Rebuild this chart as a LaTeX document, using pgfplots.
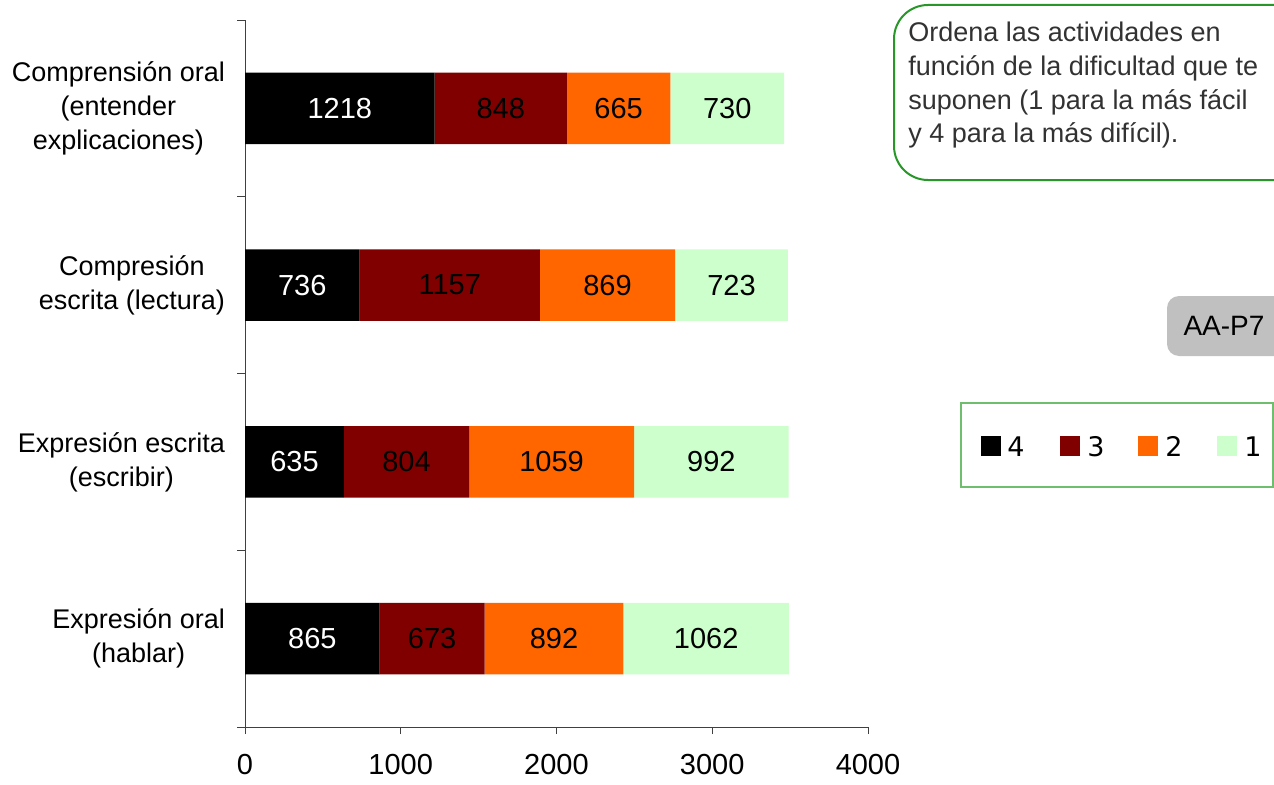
\documentclass[border=0pt]{standalone}
\usepackage{fontspec}
\setmainfont{Liberation Sans}
\newfontfamily\legendfont{DejaVu Sans}
\usepackage{pgfplots}
\usepackage{pgfplotstable}
\pgfplotsset{compat=1.18}

\definecolor{rankfour}{RGB}{0,0,0}
\definecolor{rankthree}{RGB}{128,0,0}
\definecolor{ranktwo}{RGB}{255,102,0}
\definecolor{rankone}{RGB}{204,255,204}
\definecolor{notegreen}{RGB}{40,150,40}
\definecolor{legendgreen}{RGB}{110,190,110}
\definecolor{tagfill}{RGB}{192,192,192}
\definecolor{notetext}{RGB}{50,50,50}

% answers per difficulty rank (4 = hardest, 1 = easiest)
% cat: 0 = Expresion oral, 1 = Expresion escrita, 2 = Compresion escrita, 3 = Comprension oral
\pgfplotstableread{
cat r4   r3   r2   r1
0   865  673  892  1062
1   635  804  1059 992
2   736  1157 869  723
3   1218 848  665  730
}\ranks

\begin{document}
\begin{tikzpicture}
\useasboundingbox (0,0) rectangle (637pt,392pt);
\begin{axis}[
  at={(122.5pt,28.5pt)}, anchor=south west,
  scale only axis, width=311.5pt, height=353.5pt,
  xbar stacked, bar width=0.405,
  xmin=0, xmax=4000, ymin=-0.5, ymax=3.5,
  axis x line*=bottom, axis y line*=left,
  axis line style={black!75, line width=0.5pt},
  tick align=outside,
  major tick length=3.5pt, minor tick length=4pt,
  tick style={black!75, line width=0.5pt},
  xtick={0,1000,2000,3000,4000},
  scaled x ticks=false,
  ytick={0,1,2,3},
  major y tick style={draw=none},
  minor ytick={-0.5,0.5,1.5,2.5,3.5},
  yticklabels={{Expresión oral\\(hablar)},{Expresión escrita\\(escribir)},{Compresión\\escrita (lectura)},{Comprensión oral\\(entender\\explicaciones)}},
  yticklabel style={align=center, font=\fontsize{13.5}{17}\selectfont, xshift=-3pt},
  xticklabel style={font=\fontsize{14.5}{17}\selectfont, inner sep=1pt, yshift=-9pt},
  /pgf/number format/assume math mode=true,
  /pgf/number format/1000 sep={},
  point meta=explicit,
  nodes near coords,
  nodes near coords style={anchor=center, font=\fontsize{14.5}{17}\selectfont},
]
\addplot[fill=rankfour, draw=none, nodes near coords style={text=white}] table[x=r4, y=cat, meta=r4] {\ranks};
\addplot[fill=rankthree, draw=none, nodes near coords style={text=black}] table[x=r3, y=cat, meta=r3] {\ranks};
\addplot[fill=ranktwo, draw=none, nodes near coords style={text=black}] table[x=r2, y=cat, meta=r2] {\ranks};
\addplot[fill=rankone, draw=none, nodes near coords style={text=black}] table[x=r1, y=cat, meta=r1] {\ranks};
\end{axis}

% instruction note
\draw[notegreen, line width=1pt, rounded corners=17pt] (447pt,302pt) rectangle (660pt,389.5pt);
\begin{scope}[every node/.style={anchor=base west, inner sep=0pt, text=notetext, font=\fontsize{13.5}{16}\selectfont}]
  \node at (454pt,371pt) {Ordena las actividades en};
  \node at (454pt,354.25pt) {función de la dificultad que te};
  \node at (454pt,337.5pt) {suponen (1 para la más fácil};
  \node at (454pt,320.75pt) {y 4 para la más difícil).};
\end{scope}

% tag
\fill[tagfill, rounded corners=6pt] (583.5pt,214pt) rectangle (660pt,244pt);
\node[font=\fontsize{14}{16}\selectfont] at (612pt,229pt) {AA-P7};

% legend
\draw[legendgreen, line width=0.75pt] (480.5pt,148.5pt) rectangle (636.5pt,190.5pt);
\begin{scope}[every node/.style={anchor=base west, inner sep=0pt, font=\legendfont\fontsize{13.5}{16}\selectfont}]
  \fill[rankfour]  (490.5pt,164pt) rectangle ++(10pt,10pt);
  \node at (503.5pt,164pt) {4};
  \fill[rankthree] (530pt,164pt) rectangle ++(10pt,10pt);
  \node at (543.5pt,164pt) {3};
  \fill[ranktwo]   (569pt,164pt) rectangle ++(10pt,10pt);
  \node at (582.5pt,164pt) {2};
  \fill[rankone]   (608.5pt,164pt) rectangle ++(10pt,10pt);
  \node at (622pt,164pt) {1};
\end{scope}
\end{tikzpicture}
\end{document}
